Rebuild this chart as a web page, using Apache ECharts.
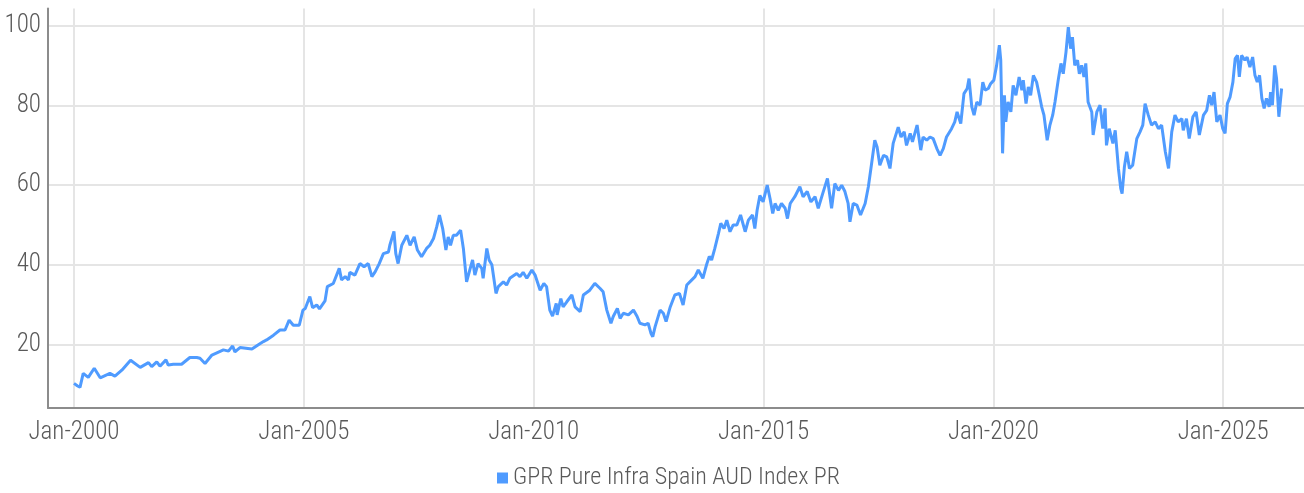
<!DOCTYPE html>
<html>
<head>
<meta charset="utf-8">
<script src="https://cdn.jsdelivr.net/npm/echarts@6/dist/echarts.min.js"></script>
<style>
html,body{margin:0;padding:0;background:#fff;}
#c{width:1304px;height:493px;}
</style>
</head>
<body>
<div id="c"></div>
<script>
const seriesName = 'GPR Pure Infra Spain AUD Index PR';
const xTickYears = [2000, 2005, 2010, 2015, 2020, 2025];
const yTickValues = [20, 40, 60, 80, 100];

const years = [
2000.00,2000.07,2000.13,2000.20,2000.31,2000.44,2000.57,2000.78,2000.89,
2001.04,2001.23,2001.44,2001.62,2001.69,2001.80,2001.87,
2002.00,2002.05,2002.16,2002.34,2002.52,2002.67,2002.74,2002.85,
2003.00,2003.25,2003.36,2003.45,2003.50,2003.61,2003.87,
2004.01,2004.12,2004.19,2004.34,2004.48,2004.59,2004.68,2004.77,2004.90,2004.98,
2005.03,2005.13,2005.19,2005.28,2005.34,2005.46,2005.51,2005.64,2005.77,2005.82,2005.90,2005.97,
2006.00,2006.11,2006.22,2006.31,2006.40,2006.48,2006.55,2006.64,2006.73,2006.84,2006.87,2006.96,
2007.00,2007.05,2007.13,2007.24,2007.31,2007.40,2007.47,2007.56,2007.67,2007.74,2007.82,2007.89,2007.95,
2008.02,2008.09,2008.14,2008.19,2008.25,2008.32,2008.41,2008.47,2008.54,2008.61,2008.67,2008.72,2008.79,2008.87,2008.90,2008.98,
2009.03,2009.09,2009.18,2009.23,2009.34,2009.41,2009.48,2009.63,2009.70,2009.77,2009.85,2009.96,
2010.03,2010.07,2010.14,2010.22,2010.28,2010.35,2010.41,2010.49,2010.51,2010.59,2010.64,2010.72,2010.83,2010.90,
2011.01,2011.08,2011.22,2011.33,2011.44,2011.51,2011.59,2011.68,2011.73,2011.82,2011.88,2011.95,
2012.06,2012.17,2012.25,2012.31,2012.42,2012.49,2012.55,2012.59,2012.64,2012.75,2012.82,2012.88,2012.97,
2013.07,2013.17,2013.25,2013.33,2013.44,2013.51,2013.58,2013.68,2013.76,2013.82,2013.87,2013.94,
2014.02,2014.07,2014.14,2014.20,2014.27,2014.34,2014.42,2014.50,2014.60,2014.67,2014.76,2014.81,2014.86,2014.92,2014.99,
2015.08,2015.14,2015.20,2015.25,2015.32,2015.39,2015.47,2015.52,2015.58,2015.68,2015.79,2015.86,2015.95,
2016.03,2016.12,2016.19,2016.29,2016.39,2016.48,2016.55,2016.63,2016.70,2016.77,2016.84,2016.88,2016.95,
2017.03,2017.11,2017.21,2017.28,2017.35,2017.42,2017.47,2017.53,2017.61,2017.68,2017.75,2017.82,2017.93,2017.99,
2018.06,2018.11,2018.19,2018.24,2018.34,2018.42,2018.47,2018.55,2018.62,2018.69,2018.77,2018.84,2018.91,2018.98,
2019.09,2019.16,2019.21,2019.29,2019.36,2019.43,2019.47,2019.53,2019.58,2019.64,2019.71,2019.77,2019.82,2019.89,2019.94,
2020.01,2020.07,2020.13,2020.16,2020.20,2020.24,2020.27,2020.32,2020.38,2020.43,2020.49,2020.56,2020.62,2020.65,2020.71,2020.76,2020.81,2020.87,2020.94,
2021.00,2021.05,2021.10,2021.17,2021.23,2021.29,2021.34,2021.41,2021.47,2021.52,2021.58,2021.63,2021.68,2021.72,2021.77,2021.83,2021.87,2021.92,2021.97,
2022.01,2022.06,2022.14,2022.17,2022.25,2022.32,2022.38,2022.43,2022.46,2022.52,2022.60,2022.65,2022.72,2022.77,2022.80,2022.85,2022.90,2022.96,
2023.03,2023.12,2023.19,2023.25,2023.30,2023.37,2023.44,2023.52,2023.59,2023.66,2023.74,2023.81,2023.88,2023.95,
2024.02,2024.10,2024.13,2024.20,2024.26,2024.34,2024.41,2024.48,2024.57,2024.64,2024.70,2024.75,2024.80,2024.86,2024.93,2024.99,
2025.04,2025.09,2025.15,2025.21,2025.26,2025.31,2025.35,2025.40,2025.47,2025.52,2025.58,2025.64,2025.69,2025.74,2025.79,2025.84,2025.89,2025.94,
2026.00,2026.03,2026.07,2026.12,2026.16,2026.21,2026.27
];

const values = [
10.2,9.6,9.2,12.7,11.7,14.0,11.6,12.7,12.0,
13.5,16.0,14.2,15.4,14.4,15.6,14.5,
16.1,14.8,15.0,15.0,16.7,16.7,16.5,15.2,
17.3,18.6,18.3,19.6,18.1,19.2,18.8,
19.9,20.7,21.1,22.3,23.6,23.6,26.1,24.8,24.8,28.6,
29.0,32.0,29.2,29.9,28.9,30.9,34.5,35.3,39.1,36.2,37.0,36.2,
38.1,37.4,40.3,39.5,40.3,37.0,38.2,40.3,42.8,43.2,44.9,48.4,
42.8,40.3,44.9,47.4,44.9,47.0,43.7,42.0,44.1,44.9,46.6,49.5,52.5,
49.1,43.7,47.0,44.9,47.4,47.4,48.7,44.1,35.7,38.7,41.2,37.4,40.3,39.1,36.6,44.1,
41.2,40.0,32.8,34.5,35.7,34.9,36.6,37.8,37.0,38.1,36.6,38.7,
37.4,37.0,33.6,35.3,34.5,28.6,27.1,30.3,27.4,31.5,29.4,30.7,32.4,29.4,
28.2,32.4,33.6,35.3,34.1,33.2,28.6,25.3,27.0,29.0,26.5,27.8,
27.4,28.6,27.0,25.3,24.9,25.3,22.8,21.9,24.4,28.6,27.8,25.7,29.4,
32.4,32.8,29.9,34.9,36.2,37.0,38.7,36.6,40.0,42.1,41.2,44.1,
47.9,50.4,49.1,51.2,48.3,50.0,50.0,52.5,48.3,51.2,52.5,49.1,53.7,57.4,55.8,
60.0,56.7,52.9,55.4,53.7,55.4,54.2,51.6,55.4,57.1,59.6,57.1,58.4,
55.8,57.1,54.2,58.0,61.7,54.2,60.4,58.7,60.0,58.4,55.4,50.8,55.4,
55.0,52.5,55.4,59.6,65.4,71.3,69.6,65.0,67.5,67.1,64.2,70.5,74.6,72.1,
73.4,70.0,73.0,70.9,75.1,68.8,72.1,71.3,72.1,71.7,69.2,67.5,69.2,72.1,
74.2,75.9,78.4,75.5,83.0,84.3,86.8,79.7,77.6,80.9,80.1,85.9,83.9,84.3,85.5,
86.4,90.1,95.2,91.4,68.0,82.6,75.9,80.9,78.4,85.1,82.6,87.2,83.9,86.4,80.5,84.7,82.6,87.6,85.9,
82.6,79.7,77.6,71.3,75.1,77.6,80.9,86.4,90.6,88.0,93.5,99.7,94.3,97.2,90.1,91.4,88.0,90.1,87.2,
90.6,80.9,78.4,72.6,78.4,80.1,74.2,79.3,70.0,74.2,70.5,73.8,64.2,59.2,57.9,64.6,68.4,64.2,
65.0,71.7,73.4,75.1,80.5,77.6,75.1,75.9,74.2,75.1,68.4,64.2,73.4,77.6,
75.9,76.7,73.8,76.7,71.7,77.2,78.4,72.6,77.6,78.8,82.6,80.1,83.4,75.9,77.6,74.2,
73.0,80.5,82.2,85.9,91.8,92.6,87.2,92.6,91.4,92.2,89.7,92.2,87.6,85.9,87.6,81.8,79.3,81.8,
79.7,83.4,80.1,90.1,86.8,77.2,84.3
];

const seriesData = years.map((y, i) => [y, values[i]]);
const FONT = "'Roboto Condensed', 'Liberation Sans Narrow', 'DejaVu Sans Condensed', sans-serif";
const chart = echarts.init(document.getElementById('c'), null, {renderer: 'canvas'});
chart.setOption({
  animation: false,
  color: ['#4F9BFF'],
  grid: {left: 48, right: 0, top: 8.5, bottom: 85, containLabel: false},
  legend: {
    show: true,
    left: 492,
    top: 461,
    icon: 'rect',
    itemWidth: 11,
    itemHeight: 11,
    itemGap: 10,
    textStyle: {fontFamily: FONT, fontSize: 24, color: '#595959', fontWeight: 300},
    data: [seriesName]
  },
  xAxis: {
    type: 'value',
    min: 1999.434,
    max: 2026.757,
    axisLine: {show: true, lineStyle: {color: '#8c8c8c', width: 2}},
    axisTick: {show: false, customValues: xTickYears},
    splitLine: {show: true, lineStyle: {color: '#e5e5e5', width: 2}},
    axisLabel: {
      customValues: xTickYears,
      formatter: v => 'Jan-' + Math.round(v),
      fontFamily: FONT, fontSize: 25, color: '#595959', fontWeight: 300, margin: 12
    }
  },
  yAxis: {
    type: 'value',
    min: 4.0,
    max: 104.4,
    axisLine: {show: true, lineStyle: {color: '#8c8c8c', width: 2}},
    axisTick: {show: false, customValues: yTickValues},
    splitLine: {show: true, lineStyle: {color: '#e5e5e5', width: 2}},
    axisLabel: {
      customValues: yTickValues,
      fontFamily: FONT, fontSize: 25, color: '#595959', fontWeight: 300, margin: 7
    }
  },
  series: [{
    name: seriesName,
    type: 'line',
    data: seriesData,
    showSymbol: false,
    symbol: 'none',
    lineStyle: {width: 3, color: '#4F9BFF'},
    itemStyle: {color: '#4F9BFF'}
  }]
});
</script>
</body>
</html>
